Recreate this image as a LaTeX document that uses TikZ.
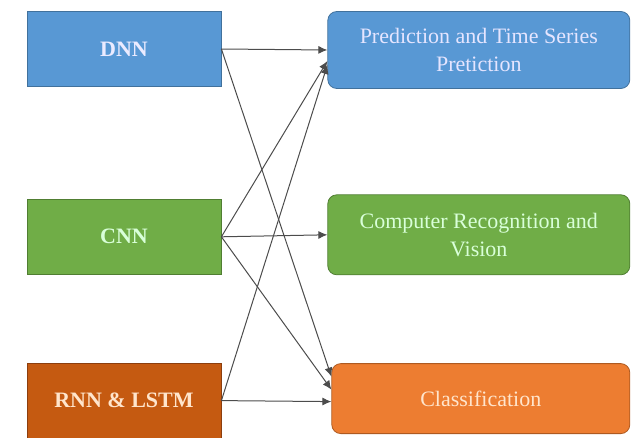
\documentclass[tikz,border=0pt]{standalone}
\usepackage{fontspec}
\setmainfont{Liberation Serif}
\usepackage{tikz}
\usetikzlibrary{arrows.meta,positioning}
\definecolor{dnnblau}{RGB}{88,152,212}
\definecolor{dnnrand}{RGB}{65,113,156}
\definecolor{cnngruen}{RGB}{112,173,71}
\definecolor{cnnrand}{RGB}{80,126,50}
\definecolor{rnnorange}{RGB}{197,90,17}
\definecolor{rnnrand}{RGB}{140,62,14}
\definecolor{klassorange}{RGB}{237,125,49}
\definecolor{klassrand}{RGB}{174,90,33}
\tikzset{
  netbox/.style={rectangle, draw, line width=0.8pt, minimum width=194pt, minimum height=75pt, align=center, font=\rmfamily\fontsize{22}{28}\selectfont\bfseries},
  taskbox/.style={rectangle, rounded corners=9pt, draw, line width=0.8pt, minimum width=302pt, minimum height=77pt, align=center, font=\rmfamily\fontsize{22}{28}\selectfont},
  pfeil/.style={draw=black!70, line width=1pt, -{Latex[length=9pt,width=8pt]}}
}

\begin{document}
\begin{tikzpicture}
\useasboundingbox (0,0) rectangle (631pt,-438pt);

\node[netbox, fill=dnnblau, draw=dnnrand, text=blue!8!white] (dnn) at (124pt,-49pt) {DNN};
\node[netbox, fill=cnngruen, draw=cnnrand, text=green!15!white, below=112pt of dnn] (cnn) {CNN};
\node[netbox, fill=rnnorange, draw=rnnrand, text=orange!20!white, below=88pt of cnn] (rnn) {RNN \& LSTM};

\node[taskbox, fill=dnnblau, draw=dnnrand, text=blue!10!white, right=106pt of dnn, yshift=-1pt] (pred) {Prediction and Time Series\\Pretiction};
\node[taskbox, fill=cnngruen, draw=cnnrand, text=green!15!white, minimum height=80pt, right=106pt of cnn, yshift=2pt] (comp) {Computer Recognition and\\Vision};
\node[taskbox, fill=klassorange, draw=klassrand, text=orange!20!white, minimum width=298pt, minimum height=70pt, right=110pt of rnn, yshift=2pt] (klass) {Classification};

% Verbindungen
\draw[pfeil] (dnn.east) -- (pred.west);
\draw[pfeil] (dnn.east) -- ([yshift=22pt]klass.west);
\draw[pfeil] (cnn.east) -- ([yshift=-11pt]pred.west);
\draw[pfeil] (cnn.east) -- (comp.west);
\draw[pfeil] (cnn.east) -- ([yshift=9pt]klass.west);
\draw[pfeil] (rnn.east) -- ([yshift=-15pt]pred.west);
\draw[pfeil] (rnn.east) -- ([yshift=-3pt]klass.west);

\end{tikzpicture}
\end{document}
